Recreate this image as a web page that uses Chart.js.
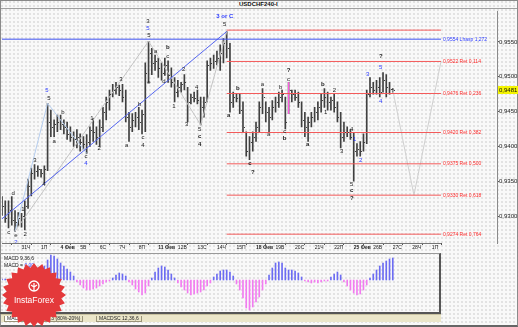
<!DOCTYPE html>
<html>
<head>
<meta charset="utf-8">
<script src="https://cdn.jsdelivr.net/npm/chart.js@4.4.1/dist/chart.umd.min.js"></script>
<style>
html, body { margin: 0; padding: 0; }
body {
    width: 518px; height: 327px; position: relative; overflow: hidden;
    background-color: #f9f9f9;
    background-image: radial-gradient(circle, #d6d6d6 0.6px, transparent 0.9px);
    background-size: 4px 4px;
    font-family: "Liberation Sans", Arial, sans-serif;
}
#frame { position: absolute; left: 0; top: 0; width: 516px; height: 324px; border: 1px solid #8a8a8a; border-bottom: 2px solid #666; }
#head { position: absolute; left: 1px; top: 1px; width: 516px; height: 7px; border-bottom: 1px solid #a0a0a0; }
#head span { position: absolute; left: 238px; top: 0; font: bold 6px "Liberation Sans", Arial, sans-serif; color: #111; }
#main { position: absolute; left: 0; top: 8px; }
#macdBox { position: absolute; left: 0; top: 253px; width: 439px; height: 58px; border-top: 1px solid #999; border-right: 2px solid #555; border-bottom: 2px solid #555; }
#macd { position: absolute; left: 0; top: 253px; }
#macdTxt { position: absolute; left: 4px; top: 255px; font-size: 5px; line-height: 7px; color: #111; }
#macdTxt b { color: #3040ff; font-weight: normal; }
#tabs { position: absolute; left: 1px; top: 314px; width: 440px; height: 7px; background: #ebe6c9; border-top: 1px solid #c8c2a0; }
#tabs span { position: absolute; top: 1px; font-size: 5px; color: #222; border: 1px solid #9a9478; border-top: none; padding: 0 2px; height: 5px; line-height: 5px; }
#logo { position: absolute; left: 0; top: 262px; }
</style>
</head>
<body>
<div id="frame"></div>
<div id="head"><span>USDCHF240-I</span></div>
<canvas id="main" width="518" height="245"></canvas>
<div id="macdBox"></div>
<canvas id="macd" width="441" height="60"></canvas>
<div id="macdTxt">MACD 9,36,6<br>MACD = <b>0,00</b></div>
<div id="tabs">
    <span style="left:3px;background:#fff">MACD</span>
    <span style="left:22px">Stoch 13,3,3 (80%-20%)</span>
    <span style="left:95px">MACDSC 12,36,6</span>
</div>
<svg id="logo" width="70" height="65"></svg>
<script>
// 4H bars, index 0 = first visible bar
const priceHigh = [
    0.9328, 0.9322, 0.9322, 0.9328, 0.9308, 0.9305, 0.9304, 0.9322, 0.9353, 0.9369,
    0.9374, 0.9372, 0.9367, 0.9372, 0.9462, 0.9452, 0.9438, 0.9445, 0.9445, 0.9438,
    0.9435, 0.9428, 0.9421, 0.9424, 0.9418, 0.9414, 0.9417, 0.9428, 0.9440, 0.9428,
    0.9438, 0.9456, 0.9471, 0.9481, 0.9489, 0.9492, 0.9488, 0.9489, 0.9481, 0.9449,
    0.9447, 0.9449, 0.9456, 0.9452, 0.9520, 0.9551, 0.9541, 0.9531, 0.9527, 0.9520,
    0.9527, 0.9523, 0.9513, 0.9499, 0.9495, 0.9492, 0.9503, 0.9485, 0.9475, 0.9478,
    0.9481, 0.9471, 0.9471, 0.9523, 0.9527, 0.9531, 0.9537, 0.9546, 0.9555, 0.9565,
    0.9548, 0.9478, 0.9476, 0.9475, 0.9464, 0.9421, 0.9414, 0.9421, 0.9435, 0.9464,
    0.9483, 0.9464, 0.9456, 0.9466, 0.9471, 0.9478, 0.9481, 0.9471, 0.9492, 0.9481,
    0.9481, 0.9478, 0.9464, 0.9449, 0.9442, 0.9449, 0.9456, 0.9464, 0.9475, 0.9483,
    0.9478, 0.9471, 0.9475, 0.9464, 0.9449, 0.9435, 0.9428, 0.9424, 0.9420, 0.9404,
    0.9407, 0.9418, 0.9481, 0.9499, 0.9492, 0.9495, 0.9499, 0.9506, 0.9503, 0.9492,
    0.9483
];
const priceLow = [
    0.9301, 0.9291, 0.9283, 0.9287, 0.9278, 0.9285, 0.9284, 0.9280, 0.9311, 0.9329,
    0.9353, 0.9357, 0.9356, 0.9346, 0.9365, 0.9414, 0.9414, 0.9421, 0.9424, 0.9418,
    0.9410, 0.9407, 0.9400, 0.9398, 0.9393, 0.9396, 0.9390, 0.9400, 0.9407, 0.9403,
    0.9400, 0.9421, 0.9438, 0.9452, 0.9471, 0.9475, 0.9473, 0.9464, 0.9435, 0.9407,
    0.9421, 0.9428, 0.9424, 0.9418, 0.9421, 0.9492, 0.9503, 0.9509, 0.9499, 0.9495,
    0.9502, 0.9492, 0.9485, 0.9464, 0.9471, 0.9478, 0.9481, 0.9435, 0.9461, 0.9464,
    0.9461, 0.9431, 0.9442, 0.9464, 0.9509, 0.9512, 0.9517, 0.9509, 0.9520, 0.9527,
    0.9449, 0.9456, 0.9464, 0.9447, 0.9421, 0.9386, 0.9381, 0.9393, 0.9407, 0.9421,
    0.9447, 0.9435, 0.9421, 0.9438, 0.9449, 0.9456, 0.9464, 0.9425, 0.9447, 0.9464,
    0.9466, 0.9456, 0.9428, 0.9414, 0.9407, 0.9428, 0.9435, 0.9438, 0.9449, 0.9456,
    0.9452, 0.9452, 0.9449, 0.9435, 0.9398, 0.9407, 0.9414, 0.9410, 0.9350, 0.9386,
    0.9386, 0.9393, 0.9404, 0.9471, 0.9475, 0.9475, 0.9471, 0.9478, 0.9471, 0.9475,
    0.9478
];
const priceClose = [
    0.9315, 0.9297, 0.9308, 0.9294, 0.9291, 0.9297, 0.9300, 0.9315, 0.9343, 0.9362,
    0.9365, 0.9367, 0.9362, 0.9367, 0.9435, 0.9428, 0.9432, 0.9435, 0.9432, 0.9428,
    0.9418, 0.9414, 0.9410, 0.9414, 0.9407, 0.9404, 0.9407, 0.9424, 0.9421, 0.9414,
    0.9428, 0.9449, 0.9464, 0.9475, 0.9481, 0.9485, 0.9481, 0.9471, 0.9442, 0.9428,
    0.9438, 0.9442, 0.9435, 0.9447, 0.9506, 0.9534, 0.9520, 0.9523, 0.9513, 0.9506,
    0.9517, 0.9503, 0.9492, 0.9478, 0.9485, 0.9489, 0.9492, 0.9464, 0.9471, 0.9469,
    0.9466, 0.9456, 0.9464, 0.9517, 0.9520, 0.9523, 0.9527, 0.9534, 0.9548, 0.9541,
    0.9464, 0.9471, 0.9469, 0.9452, 0.9428, 0.9393, 0.9407, 0.9414, 0.9428, 0.9456,
    0.9471, 0.9449, 0.9442, 0.9456, 0.9464, 0.9471, 0.9475, 0.9435, 0.9481, 0.9475,
    0.9471, 0.9464, 0.9438, 0.9428, 0.9435, 0.9442, 0.9449, 0.9456, 0.9466, 0.9471,
    0.9464, 0.9466, 0.9456, 0.9442, 0.9414, 0.9421, 0.9421, 0.9414, 0.9393, 0.9396,
    0.9393, 0.9407, 0.9475, 0.9485, 0.9481, 0.9485, 0.9478, 0.9495, 0.9485, 0.9483,
    0.9481
];
const lastPrice = 0.9481;

// MACD histogram (scaled points)
const macdHist = [
    1, 1, 0, -1, -1, 0, 1, 3, 6, 9, 11, 12, 13, 14,
    20, 25, 24, 21, 17, 14, 11, 8, 4,
    -2, -5, -8, -10, -10, -9, -8, -6, -4, -2, -1,
    2, 5, 7, 6, 4,
    -2, -5, -9, -12, -15, -13, -6,
    2, 8, 12, 14, 13, 10, 6, 2,
    -3, -7, -10, -13, -15, -14, -13, -12, -10, -6, -3,
    3, 6, 9, 10, 10, 8, 4,
    -4, -10, -18, -28, -30, -27, -22, -17, -10, -4,
    5, 12, 17, 18, 17, 12, 10, 10, 9, 7, 3,
    -1, -2, -3, -2, -3, -2, -1, -1,
    3, 6, 8, 5,
    -2,
    -6, -10, -13, -15, -14, -10, -5,
    2, 6, 10, 14, 17, 19, 21, 22
];

const dayTicks = [6, 12, 18, 24, 30, 36, 42, 48, 54, 60, 66, 72, 78, 84, 90, 96, 102, 108, 114, 120, 126, 132];
const dayLabels = ['31Ч', '1П', '4 Фев', '5В', '6С', '7Ч', '8П', '11 Фев', '12В', '13С', '14Ч', '15П',
    '18 Фев', '19В', '20С', '21Ч', '22П', '25 Фев', '26В', '27С', '28Ч', '1П'];
const weekStarts = ['4 Фев', '11 Фев', '18 Фев', '25 Фев'];
const priceTicks = [0.9300, 0.9350, 0.9400, 0.9450, 0.9500, 0.9550];

const fibLevels = [0.9567, 0.9522, 0.9476, 0.9420, 0.9375, 0.9330, 0.9274];
const fibNames = ['', 'Ret 0,114', 'Ret 0,236', 'Ret 0,382', 'Ret 0,500', 'Ret 0,618', 'Ret 0,764'];
const expLevel = 0.9554;
const expName = 'Lhasp 1,272';

// [bar, price, text, colour, bold]
const waveLabels = [
    [2.1, 0.9277, 'c', 'k', 0], [3.4, 0.9333, 'd', 'k', 0], [4.3, 0.9273, 'e', 'k', 0], [4.3, 0.9262, '2', 'b', 0],
    [6.4, 0.9309, '1', 'k', 0], [7.1, 0.9274, '2', 'k', 0], [10.1, 0.9380, '3', 'k', 0], [12.9, 0.9345, '4', 'k', 0],
    [13.8, 0.9481, '5', 'b', 0], [14.4, 0.9469, '5', 'k', 0], [16, 0.9407, 'a', 'k', 0], [18.7, 0.9449, 'b', 'k', 0],
    [25.8, 0.9386, 'c', 'k', 0], [25.8, 0.9375, '4', 'b', 0], [27.6, 0.9441, '1', 'k', 0], [29.8, 0.9397, '2', 'k', 0],
    [36.5, 0.9496, '3', 'k', 0], [38.3, 0.9401, 'a', 'k', 0], [42.3, 0.9461, 'b', 'k', 0], [43.3, 0.9413, 'c', 'k', 0],
    [43.3, 0.9401, '4', 'k', 0], [44.8, 0.9580, '3', 'k', 0], [44.8, 0.9570, '5', 'b', 0], [45.1, 0.9560, '5', 'k', 0],
    [47.2, 0.9536, 'a', 'k', 0], [50.9, 0.9542, 'b', 'k', 1], [50.9, 0.9530, 'c', 'k', 0], [45.1, 0.9492, 'e', 'k', 0],
    [49.7, 0.9493, 'd', 'k', 0], [52.8, 0.9458, '1', 'k', 0], [55.8, 0.9510, '2', 'k', 0], [56.7, 0.9431, '3', 'k', 0],
    [59.8, 0.9485, '4', 'k', 0], [60.7, 0.9425, '5', 'k', 0], [60.7, 0.9414, 'c', 'k', 1], [60.7, 0.9403, '4', 'k', 1],
    [68.4, 0.9587, '3 or C', 'b', 1], [68.4, 0.9575, '5', 'k', 0], [69.6, 0.9444, 'a', 'k', 1], [72.4, 0.9483, 'b', 'k', 1],
    [76.1, 0.9376, 'c', 'k', 1], [77, 0.9363, '?', 'k', 1], [80, 0.9489, 'a', 'k', 0], [81.9, 0.9417, 'a', 'k', 0],
    [85.6, 0.9485, 'b', 'k', 0], [86.8, 0.9422, 'c', 'k', 0], [86.8, 0.9411, 'b', 'k', 1], [88, 0.9509, '?', 'k', 1],
    [88, 0.9497, 'c', 'k', 0], [93.9, 0.9403, 'a', 'k', 1], [98.5, 0.9489, 'b', 'k', 1], [99.4, 0.9449, '1', 'k', 0],
    [102.1, 0.9480, '2', 'k', 0], [104.3, 0.9393, '3', 'k', 0], [107.4, 0.9425, '4', 'k', 0], [108.3, 0.9410, '1', 'b', 0],
    [110.1, 0.9380, '2', 'b', 0], [107.4, 0.9346, '5', 'k', 0], [107.4, 0.9337, 'c', 'k', 1], [107.4, 0.9326, '?', 'k', 1],
    [112.3, 0.9504, '3', 'b', 0], [116.3, 0.9529, '?', 'k', 1], [116.3, 0.9514, '5', 'b', 0], [116.3, 0.9465, '4', 'b', 0]
];

// wave connectors and the projected path, as [bar, price] pairs
const trendLine = [[0, 0.9296], [69, 0.9565]];
const waveLinesGrey = [
    [[4, 0.9278], [45, 0.9551]],
    [[45, 0.9551], [61, 0.9431]],
    [[61, 0.9431], [69, 0.9565]]
];
const waveLinesBlue = [
    [[4, 0.9278], [14, 0.9462]],
    [[14, 0.9462], [26, 0.9390]]
];
const forecastPath = [[120, 0.9481], [126.5, 0.9330], [134.8, 0.9522]];
const markerC = [[88, 0.9492], [88, 0.9447]];

const fibStart = 69, fibEnd = 134.8, labelAt = 135.4;
const colors = { k: '#1a1a1a', b: '#2d3cff' };
const barColor = '#404040';

const bars = priceHigh.map((h, i) => ({ x: i, y: [priceLow[i], h] }));
const seg = (pts) => pts.map(p => ({ x: p[0], y: p[1] }));
const lineSet = (pts, color, extra) => Object.assign({
    type: 'line', data: seg(pts), borderColor: color, borderWidth: 1,
    pointRadius: 0, fill: false, tension: 0
}, extra || {});

const datasets = [];
fibLevels.forEach(l => datasets.push(lineSet([[fibStart, l], [fibEnd, l]], '#f35a5a')));
datasets.push(lineSet([[0, expLevel], [fibEnd, expLevel]], '#3f52f2'));
datasets.push(lineSet(trendLine, '#5566f0'));
waveLinesGrey.forEach(l => datasets.push(lineSet(l, '#c4c4c4')));
waveLinesBlue.forEach(l => datasets.push(lineSet(l, '#b5cdee')));
datasets.push(lineSet(forecastPath, '#cfcfcf'));
datasets.push(lineSet(markerC, '#ff5ce0'));
datasets.push({ type: 'bar', data: bars, backgroundColor: barColor, barThickness: 1 });

const overlay = {
    id: 'overlay',
    afterDatasetsDraw(chart) {
        const { ctx, scales: { x, y }, chartArea } = chart;
        ctx.save();
        // close ticks, one pixel to the right of each bar
        ctx.fillStyle = barColor;
        priceClose.forEach((c, i) => {
            ctx.fillRect(Math.round(x.getPixelForValue(i)) + 1, Math.round(y.getPixelForValue(c)), 1, 1);
        });
        ctx.textBaseline = 'middle';
        ctx.textAlign = 'center';
        waveLabels.forEach(([i, p, t, c, b]) => {
            ctx.font = (b ? 'bold ' : '') + '6px "Liberation Sans", Arial';
            ctx.fillStyle = colors[c];
            ctx.fillText(t, x.getPixelForValue(i), y.getPixelForValue(p));
        });
        ctx.textAlign = 'left';
        ctx.font = '5px "Liberation Sans", Arial';
        fibLevels.forEach((l, k) => {
            if (!fibNames[k]) return;
            ctx.fillStyle = '#ff2a2a';
            ctx.fillText(l.toFixed(4).replace('.', ',') + ' ' + fibNames[k], x.getPixelForValue(labelAt), y.getPixelForValue(l));
        });
        ctx.fillStyle = '#2d3cff';
        ctx.fillText(expLevel.toFixed(4).replace('.', ',') + ' ' + expName, x.getPixelForValue(labelAt), y.getPixelForValue(expLevel));
        // time axis line stops where the future area ends
        ctx.strokeStyle = '#777';
        ctx.beginPath();
        ctx.moveTo(chartArea.left, chartArea.bottom + 0.5);
        ctx.lineTo(x.getPixelForValue(fibEnd), chartArea.bottom + 0.5);
        ctx.stroke();
        // last price box
        const py = y.getPixelForValue(lastPrice);
        ctx.fillStyle = '#f4f400';
        ctx.fillRect(chartArea.right + 1, py - 4, 21, 8);
        ctx.fillStyle = '#111';
        ctx.font = '6px "Liberation Sans", Arial';
        ctx.fillText(lastPrice.toFixed(4).replace('.', ','), chartArea.right + 2, py);
        ctx.restore();
    }
};

new Chart(document.getElementById('main'), {
    type: 'bar',
    data: { datasets: datasets },
    options: {
        responsive: false,
        animation: false,
        events: [],
        layout: { padding: { left: 2, right: 0, top: 0, bottom: 0 } },
        plugins: { legend: { display: false }, tooltip: { enabled: false } },
        scales: {
            x: {
                type: 'linear', min: 0, max: 152, offset: false,
                afterFit: s => { s.height = 10; },
                afterBuildTicks: s => { s.ticks = dayTicks.map(v => ({ value: v })); },
                grid: { drawOnChartArea: false, tickLength: 2, color: '#555' },
                border: { display: false },
                ticks: {
                    autoSkip: false, maxRotation: 0, align: 'start', padding: 0,
                    color: '#222',
                    font: c => ({ size: 5, family: '"Liberation Sans", Arial', weight: weekStarts.includes(dayLabels[c.index]) ? 'bold' : 'normal' }),
                    callback: (v, i) => dayLabels[i]
                }
            },
            y: {
                position: 'right', min: 0.92613, max: 0.95936,
                afterFit: s => { s.width = 21; },
                afterBuildTicks: s => { s.ticks = priceTicks.map(v => ({ value: v })); },
                grid: { drawOnChartArea: false, tickLength: 2, color: '#555' },
                border: { color: '#8a8a8a' },
                ticks: {
                    padding: 0, color: '#222',
                    font: { size: 6, family: '"Liberation Sans", Arial' },
                    callback: v => v.toFixed(4).replace('.', ',')
                }
            }
        }
    },
    plugins: [overlay]
});

new Chart(document.getElementById('macd'), {
    type: 'bar',
    data: {
        datasets: [{
            data: macdHist.map((v, i) => ({ x: i, y: v })),
            backgroundColor: macdHist.map(v => v >= 0 ? '#6c6cf2' : '#f27cf0'),
            barThickness: 1
        }]
    },
    options: {
        responsive: false,
        animation: false,
        events: [],
        layout: { padding: { left: 2, right: 1, top: 1, bottom: 1 } },
        plugins: { legend: { display: false }, tooltip: { enabled: false } },
        scales: {
            x: { type: 'linear', min: 0, max: 134.5, offset: false, display: false },
            y: { min: -32, max: 26, display: false }
        }
    }
});

// InstaForex badge
(function () {
    const svg = document.getElementById('logo');
    const cx = 34, cy = 33, pts = [];
    for (let k = 0; k < 48; k++) {
        const r = k % 2 ? 27.5 : 32;
        const a = Math.PI * k / 24;
        pts.push((cx + r * Math.cos(a)).toFixed(1) + ',' + (cy + r * Math.sin(a)).toFixed(1));
    }
    svg.innerHTML =
        '<polygon points="' + pts.join(' ') + '" fill="#e4393b"/>' +
        '<circle cx="34" cy="24" r="5" fill="none" stroke="#fff" stroke-width="1.3"/>' +
        '<path d="M34 21 V29 M31 23 L34 25 L37 23" stroke="#fff" stroke-width="1.2" fill="none"/>' +
        '<text x="34" y="41" text-anchor="middle" font-family="Liberation Sans, Arial" font-size="8.5" fill="#fff">InstaForex</text>';
})();
</script>
</body>
</html>
